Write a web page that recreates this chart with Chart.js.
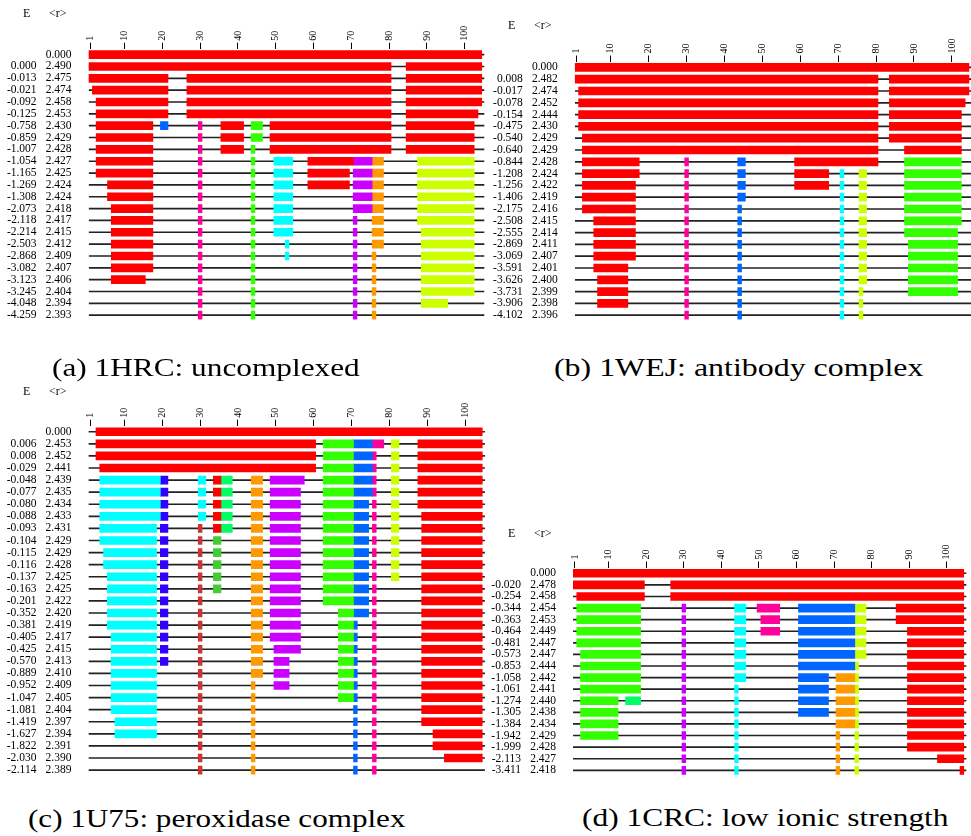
<!DOCTYPE html>
<html>
<head>
<meta charset="utf-8">
<script src="https://cdn.jsdelivr.net/npm/chart.js@4.4.1/dist/chart.umd.min.js"></script>
<style>
  html, body { margin: 0; padding: 0; background: #fff; overflow: hidden; }
  body { width: 971px; height: 836px; position: relative; font-family: 'Liberation Serif', serif; }
  canvas, .lbl, .cap { position: absolute; }
  .lbl { font-size: 12px; line-height: 12px; color: #000; }
  .cap { font-size: 25px; line-height: 25px; color: #000; white-space: nowrap; transform-origin: 0 0; }
</style>
</head>
<body>
<canvas id="chartA" width="490" height="345" style="left:0;top:0"></canvas>
<canvas id="chartB" width="482" height="345" style="left:490px;top:0"></canvas>
<canvas id="chartC" width="490" height="420" style="left:0;top:380px"></canvas>
<canvas id="chartD" width="481" height="285" style="left:490px;top:515px"></canvas>

<span class="lbl" style="left:23px;top:7px">E</span><span class="lbl" style="left:49px;top:7px">&lt;r&gt;</span>
<span class="lbl" style="left:508px;top:19px">E</span><span class="lbl" style="left:534px;top:19px">&lt;r&gt;</span>
<span class="lbl" style="left:23px;top:385px">E</span><span class="lbl" style="left:49px;top:385px">&lt;r&gt;</span>
<span class="lbl" style="left:508px;top:527px">E</span><span class="lbl" style="left:534px;top:527px">&lt;r&gt;</span>

<span class="cap" data-w="308" style="left:52px;top:355px">(a) 1HRC: uncomplexed</span>
<span class="cap" data-w="370" style="left:554px;top:355px">(b) 1WEJ: antibody complex</span>
<span class="cap" data-w="377" style="left:28px;top:806px">(c) 1U75: peroxidase complex</span>
<span class="cap" data-w="367" style="left:582px;top:805px">(d) 1CRC: low ionic strength</span>

<script>
// residue segments: colour key + first-last residue (inclusive)
const colours = {
  r: '#ff0000', b: '#0066ff', m: '#ff0099', g: '#33ff00', c: '#00ffff', p: '#cc00ff',
  o: '#ff9900', y: '#ccff00', i: '#3300ff', s: '#00ff66', k: '#cc3333', n: '#44cc33'
};
const residueTicks = [1, 10, 20, 30, 40, 50, 60, 70, 80, 90, 100];

// (a) 1HRC
const energyA = ['', '0.000', '-0.013', '-0.021', '-0.092', '-0.125', '-0.758', '-0.859', '-1.007', '-1.054',
  '-1.165', '-1.269', '-1.308', '-2.073', '-2.118', '-2.214', '-2.503', '-2.868', '-3.082', '-3.123',
  '-3.245', '-4.048', '-4.259'];
const radiusA = ['0.000', '2.490', '2.475', '2.474', '2.458', '2.453', '2.430', '2.429', '2.428', '2.427',
  '2.425', '2.424', '2.424', '2.418', '2.417', '2.415', '2.412', '2.409', '2.407', '2.406',
  '2.404', '2.394', '2.393'];
const segmentsA = [
  'r1-104',
  'r1-80 r85-104',
  'r1-21 r27-80 r85-104',
  'r2-21 r27-80 r85-104',
  'r3-21 r27-80 r85-104',
  'r3-21 r27-80 r85-103',
  'r3-17 b20-21 m30 r36-41 g44-46 r49-80 r85-102',
  'r3-17 m30 r36-41 g44-46 r49-80 r85-102',
  'r3-17 m30 r36-41 g44 r49-80 r85-102',
  'r3-17 m30 g44 c50-54 r59-70 p71-75 o76-78 y88-102',
  'r3-17 m30 g44 c50-54 r59-69 p71-75 o76-78 y88-102',
  'r6-17 m30 g44 c50-54 r59-69 p71-75 o76-78 y88-102',
  'r6-17 m30 g44 c50-54 p71-75 o76-78 y88-102',
  'r7-17 m30 g44 c50-54 p71-75 o76-78 y88-102',
  'r7-17 m30 g44 c50-54 p71 o76-78 y88-102',
  'r7-17 m30 g44 c50-54 p71 o76-78 y89-102',
  'r7-17 m30 g44 c53 p71 o76-78 y89-102',
  'r7-17 m30 g44 c53 p71 o76 y89-102',
  'r7-17 m30 g44 p71 o76 y89-102',
  'r7-15 m30 g44 p71 o76 y89-102',
  'm30 g44 p71 o76 y89-102',
  'm30 g44 p71 o76 y89-95',
  'm30 g44 p71 o76'
];

// (b) 1WEJ
const energyB = ['', '0.008', '-0.017', '-0.078', '-0.154', '-0.475', '-0.540', '-0.640', '-0.844', '-1.208',
  '-1.256', '-1.406', '-2.175', '-2.508', '-2.555', '-2.869', '-3.069', '-3.591', '-3.626', '-3.731',
  '-3.906', '-4.102'];
const radiusB = ['0.000', '2.482', '2.474', '2.452', '2.444', '2.430', '2.429', '2.429', '2.428', '2.424',
  '2.422', '2.419', '2.416', '2.415', '2.414', '2.411', '2.407', '2.401', '2.400', '2.399',
  '2.398', '2.396'];
const segmentsB = [
  'r1-104',
  'r1-80 r84-104',
  'r2-80 r84-104',
  'r2-80 r84-103',
  'r2-80 r84-102',
  'r2-80 r84-102',
  'r3-80 r84-102',
  'r3-80 r88-102',
  'r3-17 m30 b44-45 r59-80 g88-102',
  'r3-17 m30 b44-45 r59-67 c71 y76-77 g88-102',
  'r3-16 m30 b44-45 r59-67 c71 y76-77 g88-102',
  'r3-16 m30 b44-45 c71 y76-77 g88-102',
  'r3-16 m30 b44 c71 y76-77 g88-102',
  'r6-16 m30 b44 c71 y76-77 g88-102',
  'r6-16 m30 b44 c71 y76-77 g88-101',
  'r6-16 m30 b44 c71 y76-77 g89-101',
  'r6-16 m30 b44 c71 y76-77 g89-101',
  'r6-14 m30 b44 c71 y76-77 g89-101',
  'r7-14 m30 b44 c71 y76-77 g89-101',
  'r7-14 m30 b44 c71 y76 g89-101',
  'r7-14 m30 b44 c71 y76',
  'm30 b44 c71 y76'
];

// (c) 1U75
const energyC = ['', '0.006', '0.008', '-0.029', '-0.048', '-0.077', '-0.080', '-0.088', '-0.093', '-0.104',
  '-0.115', '-0.116', '-0.137', '-0.163', '-0.201', '-0.352', '-0.381', '-0.405', '-0.425', '-0.570',
  '-0.889', '-0.952', '-1.047', '-1.081', '-1.419', '-1.627', '-1.822', '-2.030', '-2.114'];
const radiusC = ['0.000', '2.453', '2.452', '2.441', '2.439', '2.435', '2.434', '2.433', '2.431', '2.429',
  '2.429', '2.428', '2.425', '2.425', '2.422', '2.420', '2.419', '2.417', '2.415', '2.413',
  '2.410', '2.409', '2.405', '2.404', '2.397', '2.394', '2.391', '2.390', '2.389'];
const segmentsC = [
  'r3-104',
  'r3-60 g63-70 b71-75 m76-78 y81-82 r88-104',
  'r3-60 g63-70 b71-75 m76 y81-82 r88-104',
  'r4-60 g63-70 b71-75 m76 y81-82 r88-104',
  'c4-19 i20-21 c30-31 r34-35 s36-38 o44-46 p49-57 g63-70 b71-75 m76 y81-82 r88-104',
  'c4-19 i20-21 c30-31 r34-35 s36-38 o44-46 p49-56 g63-70 b71-75 m76 y81-82 r88-104',
  'c4-19 i20-21 c30-31 r34-35 s36-38 o44-46 p49-56 g63-70 b71-74 m76 y81-82 r88-104',
  'c4-19 i20-21 c30-31 r34-35 s36-38 o44-46 p49-56 g63-70 b71-74 m76 y81-82 r89-104',
  'c4-18 i20-21 k30 r34-35 s36-38 o44-46 p49-56 g63-70 b71-74 m76 y81-82 r89-104',
  'c4-18 i20-21 k30 n34-35 o44-46 p49-56 g63-70 b71-74 m76 y81-82 r89-104',
  'c5-18 i20-21 k30 n34-35 o44-46 p49-56 g63-70 b71-74 m76 y81-82 r89-104',
  'c5-18 i20-21 k30 n34-35 o44-46 p49-56 g63-70 b71-74 m76 y81-82 r89-104',
  'c6-18 i20-21 k30 n34-35 o44-46 p49-56 g63-70 b71-74 m76 y81-82 r89-104',
  'c6-18 i20-21 k30 n34-35 o44-46 p49-56 g63-70 b71-74 m76 r89-104',
  'c6-18 i20-21 k30 o44-46 p49-56 g63-70 b71-74 m76 r89-104',
  'c6-18 i20-21 k30 o44-46 p49-56 g67-70 b71-74 m76 r89-104',
  'c6-18 i20-21 k30 o44-46 p49-56 g67-70 b71 m76 r89-104',
  'c7-18 i20-21 k30 o44-46 p49-56 g67-70 b71 m76 r89-104',
  'c7-18 i20-21 k30 o44-46 p50-56 g67-70 b71 m76 r89-104',
  'c7-18 i20-21 k30 o44-46 p50-53 g67-70 b71 m76 r89-104',
  'c7-18 k30 o44-46 p50-53 g67-70 b71 m76 r89-104',
  'c7-18 k30 o44 p50-53 g67-70 b71 m76 r89-104',
  'c7-18 k30 o44 g67-70 b71 m76 r89-104',
  'c7-18 k30 o44 b71 m76 r89-104',
  'c8-18 k30 o44 b71 m76 r89-104',
  'c8-18 k30 o44 b71 m76 r92-104',
  'k30 o44 b71 m76 r92-104',
  'k30 o44 b71 m76 r95-104',
  'k30 o44 b71 m76'
];

// (d) 1CRC
const energyD = ['', '-0.020', '-0.254', '-0.344', '-0.363', '-0.464', '-0.481', '-0.573', '-0.853', '-1.058',
  '-1.061', '-1.274', '-1.305', '-1.384', '-1.942', '-1.999', '-2.113', '-3.411'];
const radiusD = ['0.000', '2.478', '2.458', '2.454', '2.453', '2.449', '2.447', '2.447', '2.444', '2.442',
  '2.441', '2.440', '2.438', '2.434', '2.429', '2.428', '2.427', '2.418'];
const segmentsD = [
  'r1-104',
  'r1-19 r27-104',
  'r2-19 r27-104',
  'g2-18 p30 c44-46 m50-55 b61-75 y76-78 r87-104',
  'g2-18 p30 c44-46 m51-55 b61-75 y76-78 r87-104',
  'g2-18 p30 c44-46 m51-55 b61-75 y76-78 r90-104',
  'g2-18 p30 c44-46 b61-75 y76-78 r90-104',
  'g3-18 p30 c44-46 b61-75 y76-78 r90-104',
  'g3-18 p30 c44-46 b61-75 y76 r90-104',
  'g3-18 p30 c44-46 b61-68 o71-75 y76 r90-104',
  'g3-18 p30 c44 b61-68 o71-75 y76 r90-104',
  'g3-12 s15-18 p30 c44 b61-68 o71-75 y76 r90-104',
  'g3-12 p30 c44 b61-68 o71-75 y76 r90-104',
  'g3-12 p30 c44 o71-75 y76 r90-104',
  'g3-12 p30 c44 o71 y76 r90-104',
  'p30 c44 o71 y76 r90-104',
  'p30 c44 o71 y76 r98-104',
  'p30 c44 o71 y76 r104'
];

function parseRow(str) {
  return str.split(' ').filter(Boolean).map(tok => {
    const parts = tok.slice(1).split('-').map(Number);
    return { key: tok[0], from: parts[0], to: parts.length > 1 ? parts[1] : parts[0] };
  });
}

function makeChart(id, energies, radii, segments, box) {
  const rows = segments.map(parseRow);
  const slots = Math.max(...rows.map(r => r.length));
  const serif = 'Liberation Serif, Times New Roman, serif';

  // thin black line behind every row
  const datasets = [{
    data: radii.map(() => [0.6, box.xMax]),
    backgroundColor: '#222',
    barThickness: 1,
    grouped: false,
    order: 1
  }];
  for (let j = 0; j < slots; j++) {
    datasets.push({
      data: rows.map(r => r[j] ? [r[j].from - 0.5, r[j].to + 0.5] : null),
      backgroundColor: rows.map(r => r[j] ? colours[r[j].key] : 'rgba(0,0,0,0)'),
      barThickness: 8,
      grouped: false,
      order: 0
    });
  }

  new Chart(document.getElementById(id), {
    type: 'bar',
    data: { labels: radii, datasets },
    options: {
      indexAxis: 'y',
      responsive: false,
      animation: false,
      layout: { padding: box.pad },
      plugins: { legend: { display: false }, tooltip: { enabled: false } },
      scales: {
        x: {
          type: 'linear',
          position: 'top',
          min: 0.5,
          max: box.xMax,
          afterBuildTicks: s => { s.ticks = residueTicks.map(v => ({ value: v })); },
          afterFit: s => { s.height = box.top; },
          ticks: {
            autoSkip: false, minRotation: 90, maxRotation: 90, padding: 2, labelOffset: 12,
            color: '#000', font: { family: serif, size: 10 }
          },
          grid: { drawOnChartArea: false, tickLength: 6, color: '#000' },
          border: { display: false }
        },
        y: {
          type: 'category',
          position: 'left',
          offset: true,
          weight: 0,
          afterFit: s => { s.width = 47; },
          grid: { display: false, drawTicks: false },
          border: { display: false },
          ticks: { autoSkip: false, padding: 17, color: '#000', font: { family: serif, size: 11.5 } }
        },
        yE: {
          type: 'category',
          labels: energies,
          position: 'left',
          offset: true,
          weight: 1,
          afterFit: s => { s.width = box.eWidth; },
          grid: { display: false, drawTicks: false },
          border: { display: false },
          ticks: { autoSkip: false, padding: 5, color: '#000', font: { family: serif, size: 11.5 } }
        }
      }
    }
  });
}

makeChart('chartA', energyA, radiusA, segmentsA,
  { xMax: 105.2, top: 48.7, eWidth: 41.6, pad: { left: 0, right: 5.6, top: 0, bottom: 5.6 } });
makeChart('chartB', energyB, radiusB, segmentsB,
  { xMax: 105.2, top: 61.5, eWidth: 37.8, pad: { left: 0, right: 0.4, top: 0, bottom: 4.7 } });
makeChart('chartC', energyC, radiusC, segmentsC,
  { xMax: 105.2, top: 45.7, eWidth: 41.4, pad: { left: 0, right: 5.1, top: 0, bottom: 6.7 } });
makeChart('chartD', energyD, radiusD, segmentsD,
  { xMax: 105.2, top: 52.5, eWidth: 36, pad: { left: 0, right: 4.6, top: 0, bottom: 5.9 } });

// stretch captions to the width they take in the reference
document.querySelectorAll('.cap').forEach(el => {
  const target = Number(el.dataset.w);
  el.style.transform = 'scaleX(' + (target / el.offsetWidth) + ')';
});
</script>
</body>
</html>
